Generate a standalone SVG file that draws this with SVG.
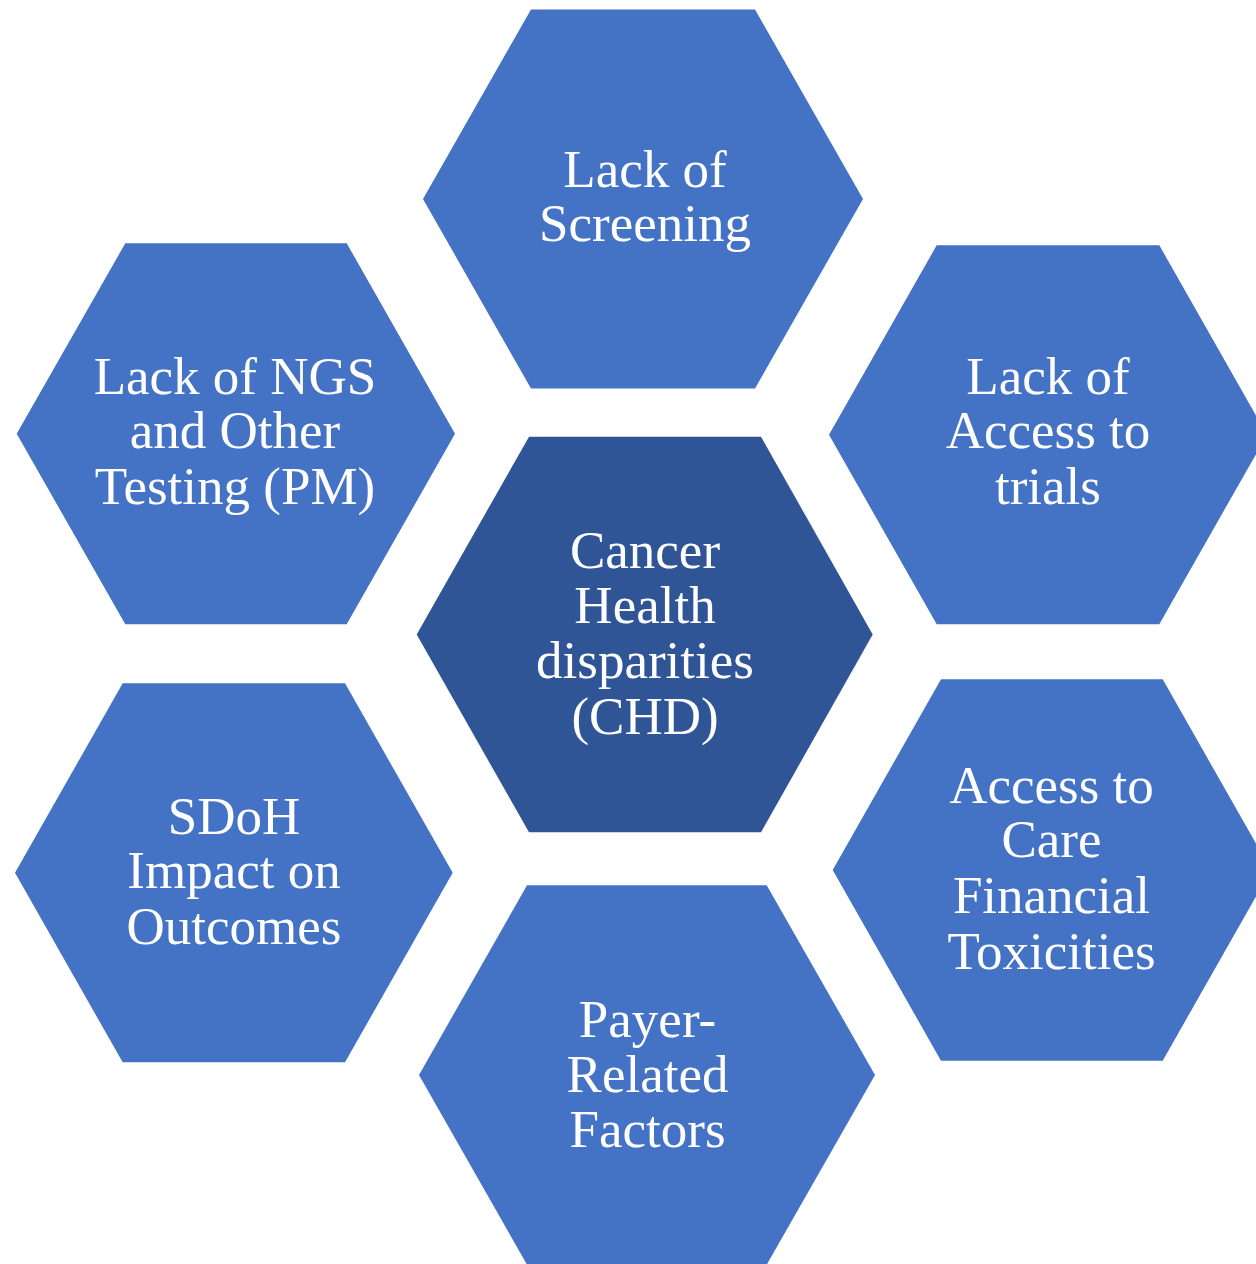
<svg xmlns="http://www.w3.org/2000/svg" width="1256" height="1264" viewBox="0 0 1256 1264">
  <style>
    .hex { fill: #4472C4; }
    .hex.core { fill: #2F5597; }
    .label { fill: #FFFFFF; font-family: "Liberation Serif", "Times New Roman", serif; font-size: 53px; text-anchor: middle; }
  </style>
  <rect width="1256" height="1264" fill="#FFFFFF"/>

  <!-- surrounding factor hexagons -->
  <g id="screening">
    <polygon class="hex" points="423,199 531,9.5 755,9.5 863,199 755,388.5 531,388.5"/>
    <text class="label" x="645" y="186.7">Lack of</text>
    <text class="label" x="645" y="240.7">Screening</text>
  </g>

  <g id="ngs-testing">
    <polygon class="hex" points="16.7,433.8 125.3,243.3 346.7,243.3 455,433.8 346.7,624.3 125.3,624.3"/>
    <text class="label" x="235" y="394.3">Lack of NGS</text>
    <text class="label" x="235" y="448.3">and Other</text>
    <text class="label" x="235" y="504.3">Testing (PM)</text>
  </g>

  <g id="trials">
    <polygon class="hex" points="829,434.8 936.7,245.3 1159.3,245.3 1267,434.8 1159.3,624.3 936.7,624.3"/>
    <text class="label" x="1048" y="394.3">Lack of</text>
    <text class="label" x="1048" y="448.3">Access to</text>
    <text class="label" x="1048" y="504.3">trials</text>
  </g>

  <g id="sdoh">
    <polygon class="hex" points="15,872.8 122.7,683.3 345,683.3 452.7,872.8 345,1062.3 122.7,1062.3"/>
    <text class="label" x="234" y="834.3">SDoH</text>
    <text class="label" x="234" y="888.3">Impact on</text>
    <text class="label" x="234" y="944.3">Outcomes</text>
  </g>

  <g id="care-financial">
    <polygon class="hex" points="832.7,870 941,679.3 1162.7,679.3 1271,870 1162.7,1060.7 941,1060.7"/>
    <text class="label" x="1051.5" y="802.7">Access to</text>
    <text class="label" x="1051.5" y="857.3">Care</text>
    <text class="label" x="1051.5" y="913.3">Financial</text>
    <text class="label" x="1051.5" y="969.3">Toxicities</text>
  </g>

  <g id="payer">
    <polygon class="hex" points="419,1075 527,885.3 766.7,885.3 875,1075 766.7,1264.7 527,1264.7"/>
    <text class="label" x="647.5" y="1036.7">Payer-</text>
    <text class="label" x="647.5" y="1091.7">Related</text>
    <text class="label" x="647.5" y="1147.3">Factors</text>
  </g>

  <!-- central hexagon -->
  <g id="chd">
    <polygon class="hex core" points="416.7,634.5 529,436.7 761,436.7 872.7,634.5 761,832.3 529,832.3"/>
    <text class="label" x="645" y="568.3">Cancer</text>
    <text class="label" x="645" y="622.7">Health</text>
    <text class="label" x="645" y="678.3">disparities</text>
    <text class="label" x="645" y="734.3">(CHD)</text>
  </g>
</svg>
